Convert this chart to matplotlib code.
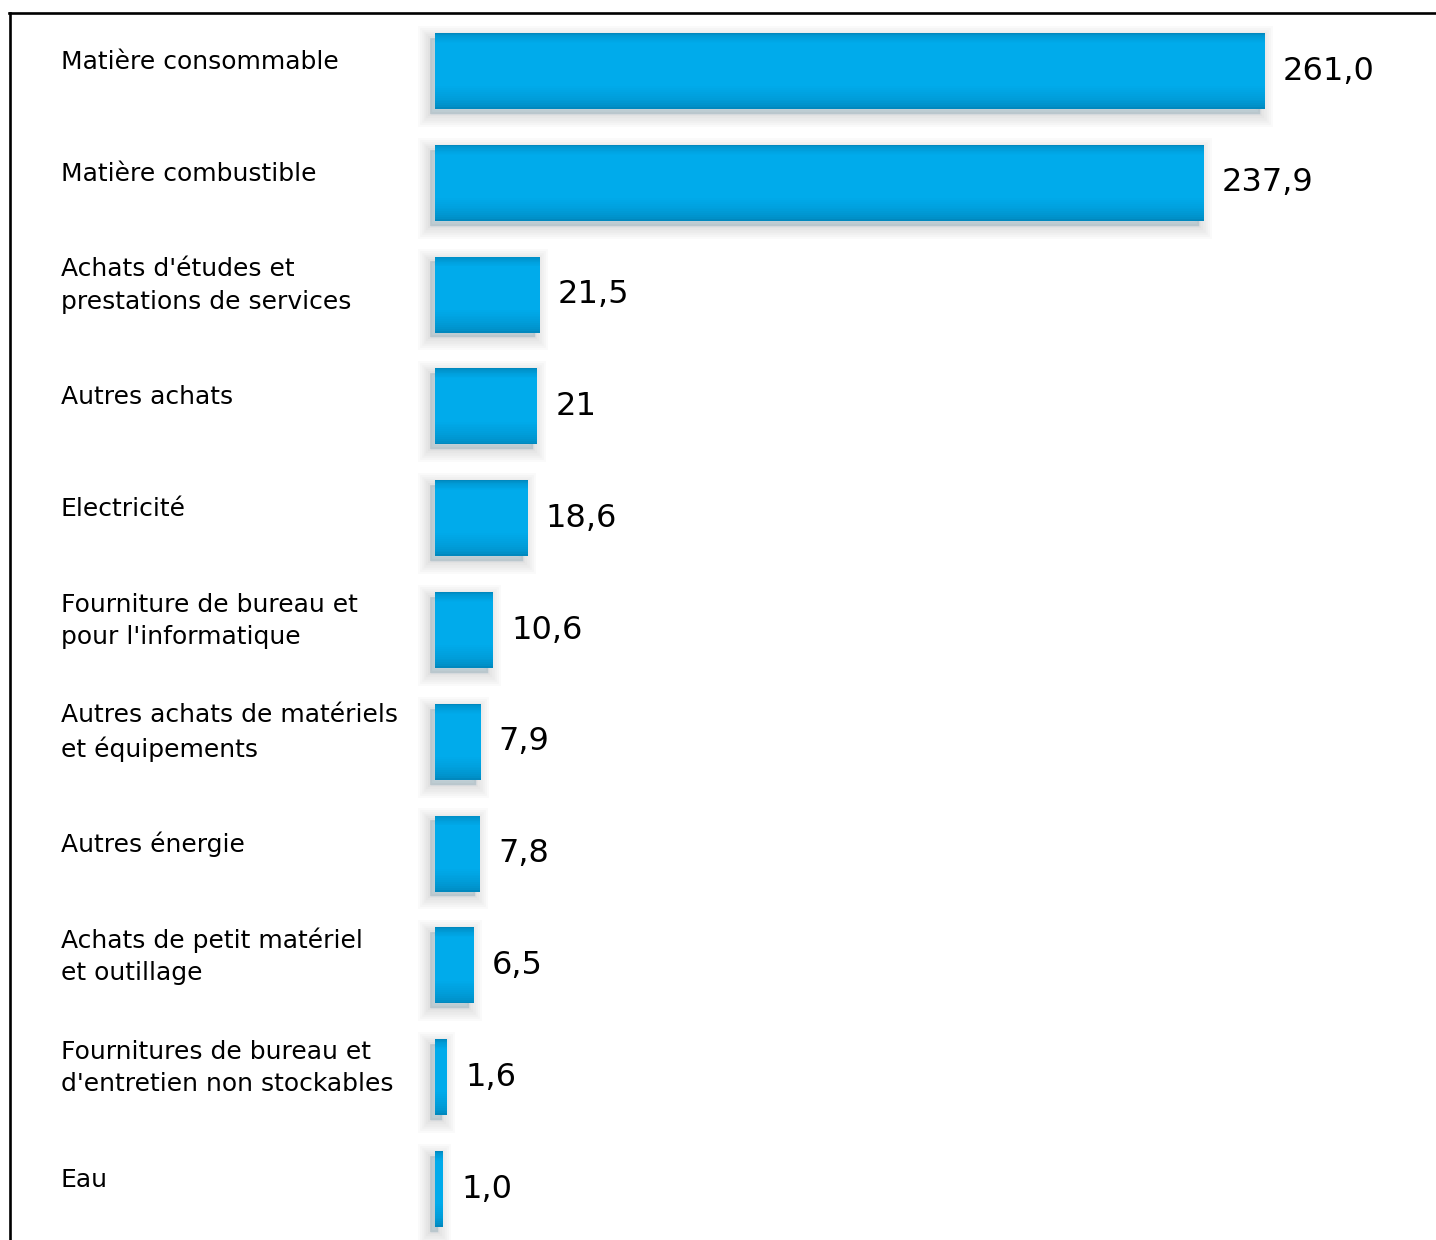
import numpy as np
import matplotlib.pyplot as plt
import matplotlib.patheffects as pe
from matplotlib.lines import Line2D
from matplotlib.colors import to_rgb

categories = ["Matière consommable", "Matière combustible",
              "Achats d'études et\nprestations de services", "Autres achats",
              "Electricité", "Fourniture de bureau et\npour l'informatique",
              "Autres achats de matériels\net équipements", "Autres énergie",
              "Achats de petit matériel\net outillage",
              "Fournitures de bureau et\nd'entretien non stockables", "Eau"]
values = [261.0, 237.9, 21.5, 21, 18.6, 10.6, 7.9, 7.8, 6.5, 1.6, 1.0]
value_labels = ["261,0", "237,9", "21,5", "21", "18,6", "10,6",
                "7,9", "7,8", "6,5", "1,6", "1,0"]

W, H = 1436, 1240
fig = plt.figure(figsize=(W / 100, H / 100), dpi=100)
# axes start where the bars start, full height
ax = fig.add_axes([435 / W, 0, 1 - 435 / W, 1])
ax.axis('off')

# the drawn bars of the original are not proportional: power scale
p = 0.83
ax.set_xscale('function', functions=(lambda x: np.abs(x) ** p,
                                     lambda x: np.abs(x) ** (1 / p)))
xmax = (max(values) ** p * 1001 / 830) ** (1 / p)
ax.set_xlim(0, xmax)
step = 111.8
ax.set_ylim((H - 71) / step, -71 / step)

y = np.arange(len(values))
h = 0.68

# soft shadow (left / down) + dark base
shadow = [pe.Stroke(offset=(-3.5, -3.5), linewidth=lw, foreground='black', alpha=0.02)
          for lw in (18, 15, 12, 9, 6, 3)]
shadow += [pe.SimplePatchShadow(offset=(-3.5, -3.5), shadow_rgbFace='black', alpha=0.05),
           pe.Normal()]
base = ax.barh(y, values, height=h, color='#0088be', linewidth=0)
for b in base:
    b.set_path_effects(shadow)
    b.set_clip_on(False)

# vertical gradient: dark top, wider dark bottom, bright middle
dark = np.array(to_rgb('#0088be'))
bright = np.array(to_rgb('#00abeb'))
n = 12
for k in range(1, n + 1):
    t = k / n
    c = dark + (bright - dark) * t ** 0.6
    a, b_ = 0.13 * h * t, 0.3 * h * t
    ax.barh(y + (a - b_) / 2, values, height=h - a - b_, color=c, linewidth=0)

for i, (v, lab) in enumerate(zip(values, value_labels)):
    ax.annotate(lab, (v, i), xytext=(13, 0), textcoords='offset points',
                ha='left', va='center', fontsize=23, color='black')

for i, name in enumerate(categories):
    ax.annotate(name, (61 / W, i), xycoords=('figure fraction', 'data'),
                xytext=(0, 6.5), textcoords='offset points',
                ha='left', va='center', fontsize=18, linespacing=1.45)

# frame lines, top and left
fig.add_artist(Line2D([9 / W, 1], [1 - 12.5 / H, 1 - 12.5 / H],
                      color='black', lw=1.9, transform=fig.transFigure))
fig.add_artist(Line2D([10 / W, 10 / W], [0, 1 - 12.5 / H],
                      color='black', lw=1.9, transform=fig.transFigure))

fig.savefig('out.png', dpi=100)
